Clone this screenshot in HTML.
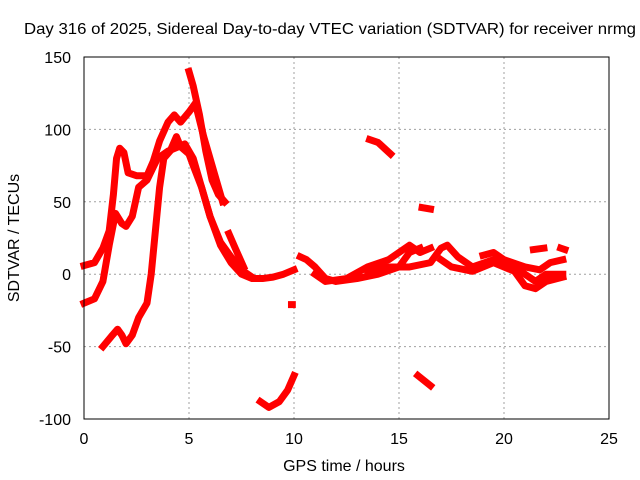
<!DOCTYPE html>
<html><head><meta charset="utf-8"><style>
body{margin:0;background:#fff;}
svg{display:block;font-family:"Liberation Sans",sans-serif;}
</style></head><body>
<svg id="chart" width="640" height="480">
<rect width="640" height="480" fill="#fff"/>
<text x="330" y="34" font-size="16" text-anchor="middle" textLength="612" lengthAdjust="spacingAndGlyphs">Day 316 of 2025, Sidereal Day-to-day VTEC variation (SDTVAR) for receiver nrmg</text>
<g id="grid"></g>
<g id="series"></g>
<rect x="84" y="57" width="525" height="362" fill="none" stroke="#000" stroke-width="1"/>
<g id="ticks"></g>
<text x="344" y="471" font-size="16" text-anchor="middle">GPS time / hours</text>
<text x="19" y="238" font-size="16" text-anchor="middle" transform="rotate(-90 19 238)">SDTVAR / TECUs</text>
</svg>
<script>
const xTicks=[0,5,10,15,20,25];
const yTicks=[-100,-50,0,50,100,150];
const trackTimes=[
[0,0.5,0.9,1.2,1.4,1.55,1.7,1.9,2.1,2.5,3.0,3.3,3.6,4.0,4.3,4.6,5.0,5.3,5.7,6.2,6.6],
[0,0.5,0.9,1.2,1.5,1.8,2.0,2.3,2.6,3.0,3.5,4.0,4.5,4.8,5.2,5.6,6.0,6.5,7.0,7.5,8.0,8.5,9.0,9.5,10.0],
[0.9,1.3,1.6,1.8,2.0,2.3,2.6,3.0,3.2,3.4,3.6,3.8,4.1,4.4,4.6,5.0,5.2,5.6,6.0,6.5,7.0,7.5,8.0],
[5.0,5.2,5.5,5.8,6.1,6.4,6.7],
[6.9,7.2,7.6],
[8.4,8.8,9.3,9.7,10.0],
[9.88,9.92],
[10.3,10.6,11,11.5,12,13,14,15,15.5,16],
[11,11.5,12.5,13.5,14.5,15.5,16,16.5],
[13.5,14.5,15.5,16.5,17,17.3,17.8,18.5,19.5,20.5,21.5,22,22.8],
[17,17.5,18.5,19.5,20.5,21,21.5,22,22.8],
[19,19.5,20,21,21.7,22.2,22.8],
[13.6,14,14.6],
[16.1,16.5],
[15.9,16.5],
[21.4,21.9],
[22.7,22.9]
];
const trackValues=[
[6,8,18,30,55,80,87,84,70,68,68,78,92,105,110,105,112,118,95,70,50],
[-20,-17,-5,20,42,35,33,40,60,65,80,85,88,90,80,60,40,20,8,0,-3,-3,-2,0,3],
[-50,-43,-38,-42,-48,-42,-30,-20,0,30,60,80,85,95,88,83,75,60,40,22,12,3,-2],
[140,130,110,85,65,55,50],
[28,18,5],
[-88,-92,-88,-80,-70],
[-21,-21],
[12,10,5,-3,-5,-3,0,5,15,18],
[0,-5,-3,5,10,20,15,18],
[2,5,5,8,18,20,12,5,10,5,-5,0,0],
[10,5,2,8,2,-8,-10,-5,-2],
[13,15,10,5,3,8,10],
[93,91,83],
[46,45],
[-70,-77],
[17,18],
[18,17]
];
const NS='http://www.w3.org/2000/svg';
const X=t=>84+t*21, Y=v=>274.2-v*1.448;
const grid=document.getElementById('grid'),ticks=document.getElementById('ticks'),ser=document.getElementById('series');
xTicks.forEach(t=>{
 if(t>0&&t<25){const l=document.createElementNS(NS,'line');
 
 
 l.setAttribute('x1',X(t));l.setAttribute('x2',X(t));l.setAttribute('y1',57);l.setAttribute('y2',419);
 l.setAttribute('stroke','#a0a0a0');l.setAttribute('stroke-dasharray','2,3');grid.appendChild(l);}
 const s=document.createElementNS(NS,'text');
 
 
 s.setAttribute('x',X(t));s.setAttribute('y',444);s.setAttribute('font-size','16');s.setAttribute('text-anchor','middle');
 s.textContent=t;ticks.appendChild(s);
});
yTicks.forEach(v=>{
 if(v>-100&&v<150){const l=document.createElementNS(NS,'line');
 
 
 l.setAttribute('x1',84);l.setAttribute('x2',609);l.setAttribute('y1',Y(v));l.setAttribute('y2',Y(v));
 l.setAttribute('stroke','#a0a0a0');l.setAttribute('stroke-dasharray','2,3');grid.appendChild(l);}
 const s=document.createElementNS(NS,'text');
 
 
 s.setAttribute('x',71);s.setAttribute('y',Y(v)+6);s.setAttribute('font-size','16');s.setAttribute('text-anchor','end');
 s.textContent=v;ticks.appendChild(s);
});
trackTimes.forEach((ts,i)=>{
 const p=document.createElementNS(NS,'polyline');
 
 
 p.setAttribute('points',ts.map((t,j)=>X(t)+','+Y(trackValues[i][j])).join(' '));
 p.setAttribute('fill','none');p.setAttribute('stroke','#ff0000');p.setAttribute('stroke-width','7');
 p.setAttribute('stroke-linejoin','round');p.setAttribute('stroke-linecap','square');
 ser.appendChild(p);
});
</script>
</body></html>
